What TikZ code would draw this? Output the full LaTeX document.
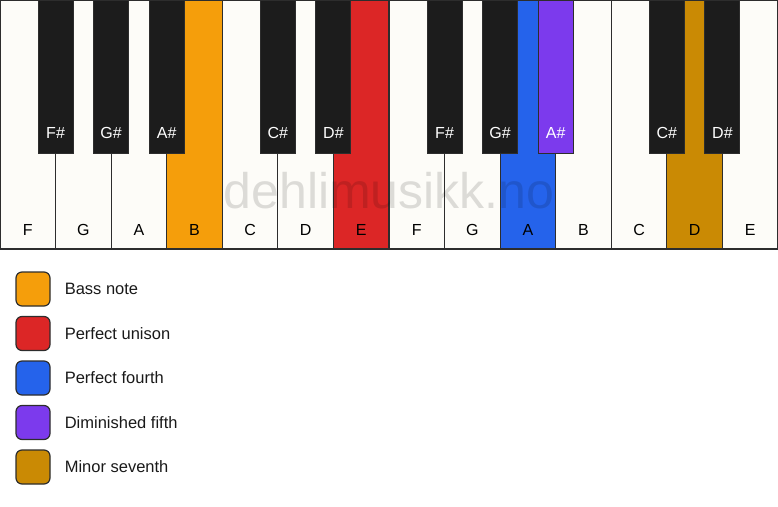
\documentclass[tikz,border=0pt]{standalone}
\usepackage{fontspec}
\setmainfont{Liberation Sans}
\usepackage{tikz}
\usetikzlibrary{positioning}
\tikzstyle{keyboard} = [x = 1pt, y = -1pt]
\definecolor{keyWhite}{RGB}{253,252,248}
\definecolor{keyBlack}{RGB}{28,28,28}
\definecolor{keyEdge}{RGB}{45,45,45}
\definecolor{bassColor}{RGB}{245,158,11}
\definecolor{unisonColor}{RGB}{220,38,38}
\definecolor{fourthColor}{RGB}{37,99,235}
\definecolor{dimFifthColor}{RGB}{124,58,237}
\definecolor{seventhColor}{RGB}{202,138,4}
\tikzstyle{whiteKeyStyle} = [draw=keyEdge, fill=keyWhite, line width=1.2pt]
\tikzstyle{blackKeyStyle} = [draw=keyEdge, fill=keyBlack, line width=1pt]
\tikzstyle{whiteKeyText} = [font=\fontsize{16}{19}\selectfont, text=black]
\tikzstyle{blackKeyText} = [font=\fontsize{16}{19}\selectfont, text=white]
\tikzstyle{watermark} = [font=\fontsize{50}{60}\selectfont, text=black, text opacity=0.13]
\tikzstyle{legendBox} = [draw=keyEdge, line width=1.2pt, rounded corners=6pt, minimum size=34pt, inner sep=0pt]
\tikzstyle{legendText} = [font=\fontsize{16.5}{20}\selectfont, text=black!90, inner sep=0pt]
\newcommand{\keyWidth}{55.571}
\newcommand{\blackWidth}{35}
\newcommand{\whiteKey}[3]{\filldraw [whiteKeyStyle, fill=#3] (#1 * \keyWidth, 0) rectangle + (\keyWidth, 249) node [whiteKeyText] (white#1) at (#1 * \keyWidth + \keyWidth / 2, 230) {#2};}
\newcommand{\blackKey}[3]{\filldraw [blackKeyStyle, fill=#3] (#1 * \keyWidth - \blackWidth / 2, 0) rectangle + (\blackWidth, 153) node [blackKeyText] (black#1) at (#1 * \keyWidth, 133) {#2};}
\newcommand{\legendEntry}[3]{
  \node [legendBox, fill=#2] (box#1) at (33, 289 + #1 * 44.5) {};
  \node [legendText, right=14pt of box#1] (label#1) {#3};
}

\begin{document}
\begin{tikzpicture}[keyboard]
  \useasboundingbox (0,0) rectangle (778,506);
  \foreach \idx/\name/\col in {0/F/keyWhite, 1/G/keyWhite, 2/A/keyWhite, 3/B/bassColor,
      4/C/keyWhite, 5/D/keyWhite, 6/E/unisonColor, 7/F/keyWhite, 8/G/keyWhite,
      9/A/fourthColor, 10/B/keyWhite, 11/C/keyWhite, 12/D/seventhColor, 13/E/keyWhite} {
    \whiteKey{\idx}{\name}{\col}
  }
  \foreach \idx/\name/\col in {1/F\#/keyBlack, 2/G\#/keyBlack, 3/A\#/keyBlack,
      5/C\#/keyBlack, 6/D\#/keyBlack, 8/F\#/keyBlack, 9/G\#/keyBlack,
      10/A\#/dimFifthColor, 12/C\#/keyBlack, 13/D\#/keyBlack} {
    \blackKey{\idx}{\name}{\col}
  }
  \node [watermark] (mark) at (389, 191) {dehlimusikk.no};

  \legendEntry{0}{bassColor}{Bass note}
  \legendEntry{1}{unisonColor}{Perfect unison}
  \legendEntry{2}{fourthColor}{Perfect fourth}
  \legendEntry{3}{dimFifthColor}{Diminished fifth}
  \legendEntry{4}{seventhColor}{Minor seventh}
\end{tikzpicture}
\end{document}
